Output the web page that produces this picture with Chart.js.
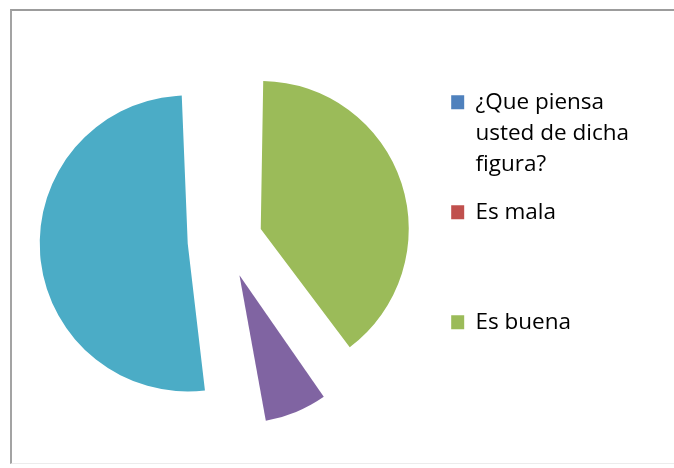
<!DOCTYPE html>
<html>
<head>
<meta charset="utf-8">
<script src="https://cdn.jsdelivr.net/npm/chart.js@4/dist/chart.umd.min.js"></script>
<style>
    html, body { margin: 0; padding: 0; background: #fff; }
    #wrap { position: relative; width: 674px; height: 468px; overflow: hidden; }
    #frame {
        position: absolute; left: 10px; top: 9px; width: 700px; height: 452px;
        border-left: 2px solid #a3a3a3; border-top: 2px solid #9c9c9c;
        border-bottom: 1px solid #ececec; pointer-events: none;
    }
    canvas { position: absolute; left: 0; top: 0; }
</style>
</head>
<body>
<div id="wrap">
    <canvas id="chart" width="674" height="468"></canvas>
    <div id="frame"></div>
</div>
<script>
(function(Chart) {
    "use strict";

    // categories as in the sheet (first row header got picked up as a category)
    var categories = ['¿Que piensa usted de dicha figura?', 'Es mala', 'Es buena', 'Es regular', 'No sabe'];
    var values = [0, 0, 16, 3, 21];
    var colors = ['#4F81BD', '#C0504D', '#9BBB59', '#8064A2', '#4BACC6'];
    // legend lines, the way Excel wrapped them
    var legendLines = [
        ['¿Que piensa', 'usted de dicha', 'figura?'],
        ['Es mala', '', ''],
        ['Es buena']
    ];

    // chart.js grows an exploded arc's radius by offset/4 * (1 - sin(angle));
    // take it back so every slice keeps the same radius, like excel
    var evenRadius = {
        id: 'evenRadius',
        afterDatasetUpdate: function(chart, args) {
            args.meta.data.forEach(function(arc) {
                var off = ((arc.options && arc.options.offset) || 0) / 4,
                    fix = 1 - Math.sin(Math.min(Math.PI, arc.circumference || 0));
                arc.outerRadius = Math.max(arc.outerRadius - off * fix, 0);
            });
        }
    };

    var ctx = document.getElementById('chart').getContext('2d');

    new Chart(ctx, {
        type: 'pie',
        data: {
            labels: categories,
            datasets: [{
                data: values,
                backgroundColor: colors,
                borderWidth: 0,
                offset: 150,
                clip: false
            }]
        },
        options: {
            responsive: false,
            animation: false,
            radius: 148,
            layout: { padding: { left: 16, right: 35, top: 74, bottom: 61 } },
            plugins: {
                tooltip: { enabled: false },
                legend: {
                    position: 'right',
                    align: 'start',
                    labels: {
                        boxWidth: 13,
                        boxHeight: 14,
                        padding: 17,
                        color: '#404040',
                        font: { family: 'Open Sans', size: 22.5, lineHeight: 1.378 },
                        generateLabels: function() {
                            return legendLines.map(function(lines, i) {
                                return {
                                    text: lines,
                                    fillStyle: colors[i],
                                    strokeStyle: colors[i],
                                    lineWidth: 0,
                                    hidden: false,
                                    index: i
                                };
                            });
                        }
                    }
                }
            }
        },
        plugins: [evenRadius]
    });
}(Chart));
</script>
</body>
</html>
